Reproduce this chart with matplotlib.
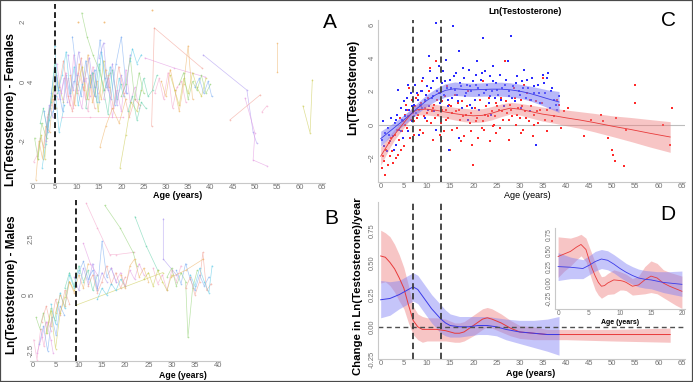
import matplotlib.pyplot as plt
import matplotlib.transforms as mtransforms
from matplotlib.patches import Rectangle

plt.rcParams['font.family'] = ['Liberation Sans', 'DejaVu Sans']

W, H = 693, 382

# ---------------- panel A: females, individual trajectories ----------------
fem_age = [
    [0.3, 1.0, 1.8, 2.6, 3.4, 4.2, 5.0, 5.8],
    [0.8, 1.5, 2.3, 3.0, 3.9, 4.6, 5.4],
    [1.2, 2.0, 2.8, 3.6, 4.5, 5.2, 6.1, 7.0],
    [0.5, 1.3, 2.1, 3.2, 4.0, 4.9],
    [1.8, 2.5, 3.3, 4.1, 5.0, 5.6],
    [2.2, 3.0, 3.8, 4.7, 5.3, 6.0, 7.2],
    [2.6, 3.5, 4.3, 5.1, 5.9, 6.8, 7.6, 8.5, 9.3],
    [3.0, 3.8, 4.6, 5.4, 6.2, 7.1, 7.9],
    [5.5, 6.5, 7.5, 8.4, 9.3, 10.2, 11.1, 12.0, 13.0],
    [6.0, 7.0, 8.0, 9.0, 10.0, 11.0, 12.0, 13.0, 14.0],
    [7.0, 8.1, 9.2, 10.3, 11.4, 12.5, 13.6, 14.7],
    [8.5, 9.5, 10.5, 11.5, 12.5, 13.5, 14.5, 15.5, 16.5],
    [10.0, 11.2, 12.4, 13.6, 14.8, 16.0, 17.2],
    [11.1, 12.3, 13.6, 15.0, 16.2, 17.5],
    [12.0, 13.0, 14.0, 15.0, 16.0, 17.0, 18.0, 19.0, 20.0],
    [13.5, 14.5, 15.5, 16.5, 17.5, 18.5, 19.5, 20.5],
    [14.0, 15.2, 16.4, 17.6, 18.8, 20.0, 21.2],
    [15.0, 16.0, 17.0, 18.0, 19.0, 20.0, 21.0, 22.0],
    [16.0, 17.0, 18.0, 19.0, 20.0, 21.0, 22.0, 23.0, 24.0],
    [17.0, 18.2, 19.4, 20.6, 21.8, 23.0, 24.2],
    [6.6, 13.0, 20.4],
    [15.2, 16.5, 18.0, 19.5, 21.0],
    [19.7, 21.0, 22.2, 23.5, 24.5],
    [20.0, 21.0, 22.0, 23.0, 24.0, 25.0],
    [21.5, 22.5, 23.5, 24.5, 25.5],
    [5.0, 5.8, 6.7, 7.6, 8.5, 9.4, 10.3, 11.2],
    [9.0, 10.0, 11.0, 12.0, 13.0, 14.0, 15.0],
    [8.0, 9.2, 10.4, 11.6, 12.8, 14.0],
    [25.3, 31.9, 38.8],
    [26.8, 27.4, 38.1],
    [27.5, 28.5, 29.5, 30.5, 31.5, 32.5, 33.5, 34.5],
    [29.0, 30.0, 31.0, 32.0, 33.0, 34.0, 35.0, 36.0],
    [31.0, 32.0, 33.0, 34.0, 35.0, 36.0, 37.0, 38.0, 39.0],
    [33.0, 34.0, 35.0, 36.0, 37.0, 38.0, 39.0, 40.0],
    [24.0, 25.0, 26.0, 27.0, 28.0],
    [22.0, 22.5, 23.5, 24.5],
    [36.5, 37.5, 38.5, 39.5, 40.3],
    [38.4, 48.2, 49.6, 50.4],
    [47.8, 50.0, 49.6, 52.7],
    [44.4, 51.2],
    [51.6, 52.7],
    [55.0, 55.0],
    [60.8, 62.4, 62.9],
]
fem_ln = [
    [-2.7, -2.5, -1.9, -2.2, -1.2, -0.8, -0.3, -0.6],
    [-3.3, -2.0, -2.6, -1.5, -1.7, -0.6, -0.9],
    [-2.6, -1.8, -2.6, -1.1, -0.5, 0.4, -0.2, -0.7],
    [-1.9, -2.6, -1.4, -1.9, -0.9, -0.2],
    [-1.4, -0.9, -1.6, -0.7, 0.6, -0.4],
    [-2.9, -2.1, -1.3, -1.0, -0.5, -1.7, -0.8],
    [-1.0, -1.7, -0.4, 0.5, -0.3, -1.0, 0.2, -0.5, 0.0],
    [-2.0, -0.8, -1.2, 0.2, -0.6, 0.1, -0.7],
    [0.6, -0.4, 0.3, -0.8, 0.9, -0.3, -0.9, 0.1, -0.5],
    [-0.2, 0.7, -0.5, -1.0, -0.1, 0.8, -0.6, 0.2, -0.9],
    [-0.6, 0.1, -0.9, 0.3, -0.2, -1.0, 0.5, -0.4],
    [0.2, -0.8, 0.6, -0.3, 0.9, -0.7, 0.0, -0.6, 0.4],
    [-0.4, 0.5, -0.6, 0.3, -1.0, 0.7, -0.2],
    [2.3, 1.5, 0.9, 0.4, -0.3, 0.3],
    [-0.9, 0.2, -0.5, 0.6, -0.3, -1.1, 0.4, -0.6, -0.1],
    [0.3, -0.7, 1.0, -0.2, 0.5, -0.8, 0.1, -0.5],
    [-0.2, 1.4, 0.1, -0.6, 0.6, 1.5, -0.4],
    [0.8, 1.3, -0.3, 0.6, -0.8, 0.2, -0.4, 0.9],
    [-0.6, 0.1, -1.2, -0.3, -1.0, 0.4, -0.7, -0.2, -0.9],
    [0.2, -0.9, 0.5, -0.4, -1.2, -0.6, -0.8],
    [-1.2, -1.2, -1.2],
    [-2.2, -1.5, -0.9, -1.4, -0.6],
    [-2.9, -1.8, -0.7, -1.0, -0.3],
    [-0.5, -0.1, 0.8, -0.6, 0.3, -0.4],
    [-1.0, -0.5, -1.3, -0.7, -0.9],
    [1.2, -0.3, 0.2, 1.0, -0.4, 0.5, -0.8, -0.1],
    [1.5, 0.2, -0.5, 0.7, -0.2, 0.4, -0.7],
    [0.9, -0.3, 1.0, 0.0, 0.8, -0.5],
    [0.79, 0.45, 0.15],
    [-1.5, 1.8, 0.45],
    [-0.4, 0.1, -0.6, 0.3, -0.9, -0.2, 0.0, -0.7],
    [0.0, -0.5, 0.4, -0.3, -1.0, -0.1, 1.2, -0.6],
    [0.2, -0.3, -0.8, 0.1, -0.4, 0.3, -0.2, -0.5, 0.1],
    [-0.1, 0.3, -0.6, 0.0, -0.3, 0.2, -0.4, -0.1],
    [-0.6, 0.1, -0.5, -0.3, 0.2],
    [0.7, 1.1, 0.6, 0.9],
    [-0.2, 0.1, -0.4, 0.0, -0.5],
    [0.89, -0.29, -1.7, -2.07],
    [-0.56, -1.73, -2.64, -2.84],
    [-1.29, -0.45],
    [-1.02, -0.82],
    [1.29, 0.32],
    [-0.82, -1.73, 0.05],
]
fem_dot_age = [10.3, 16.0, 26.8]
fem_dot_ln = [2.0, 2.0, 2.4]

# ---------------- panel B: males, individual trajectories ----------------
male_age = [
    [0.3, 1.0, 1.8, 2.5, 3.3, 4.1],
    [0.8, 1.6, 2.4, 3.2, 4.0, 4.8, 5.6],
    [1.5, 2.4, 3.3, 4.2, 5.1, 6.0, 6.9],
    [2.0, 3.0, 4.0, 5.0, 6.0, 7.0, 8.0],
    [3.0, 4.0, 5.0, 6.0, 7.0, 8.0, 9.0],
    [4.0, 5.0, 6.0, 7.0, 8.0, 9.0, 10.0],
    [1.0, 2.0, 3.0, 4.0, 4.5],
    [5.0, 6.0, 7.0, 8.0, 9.0, 10.0, 11.0, 12.0],
    [7.0, 8.0, 9.0, 10.0, 11.0, 12.0, 13.0, 14.0],
    [9.0, 10.0, 11.0, 12.0, 13.0, 14.0, 15.0, 16.0],
    [11.6, 14.0, 16.7, 18.0, 21.8],
    [15.6, 18.9, 21.7, 22.5],
    [10.0, 11.0, 12.0, 13.0, 14.0, 15.0, 16.0, 17.0, 18.0],
    [12.0, 13.0, 14.0, 15.0, 16.0, 17.0, 18.0, 19.0, 20.0],
    [9.5, 28.1],
    [14.0, 15.0, 16.0, 17.0, 18.0, 19.0, 20.0],
    [17.0, 18.0, 19.0, 20.0, 21.0, 22.0, 23.0, 24.0],
    [19.0, 20.0, 21.0, 22.0, 23.0, 24.0, 25.0],
    [22.1, 24.5, 27.0],
    [28.2, 28.2, 31.0],
    [26.0, 27.0, 28.0, 29.0, 30.0, 31.0, 32.0],
    [29.0, 30.0, 31.0, 32.0, 33.0, 33.5, 34.5, 35.5],
    [31.0, 32.0, 33.0, 34.0, 35.0, 36.0, 37.0, 38.0],
    [33.0, 34.0, 35.0, 36.0, 36.7, 37.5, 38.5],
    [24.0, 25.0, 26.0, 27.0, 28.0, 29.0, 30.0],
    [34.0, 35.0, 36.0, 37.0, 38.0, 38.7],
    [11.0, 12.5, 14.0],
    [29.9, 33.0, 36.8],
]
male_ln = [
    [-2.0, -2.9, -1.5, -2.3, -1.2, -1.6],
    [-1.0, -1.5, -0.8, -1.7, -0.6, -1.1, -0.3],
    [-2.2, -1.4, -2.5, -1.0, -1.8, -0.5, -0.9],
    [-1.2, -0.5, -1.4, -0.2, -0.9, 0.2, -0.4],
    [-1.7, -0.7, -2.4, -0.8, -0.1, 0.6, 0.2],
    [-0.4, -1.3, 0.1, -0.6, 0.9, 0.3, 1.1],
    [-2.6, -1.9, -1.2, -2.0, -2.6],
    [-0.8, 0.0, -0.5, 0.6, 0.1, 0.9, 0.3, 1.4],
    [0.3, 1.0, 0.4, 1.3, 0.6, 1.1, 0.2, 0.9],
    [0.8, 0.2, 1.2, 0.5, 1.4, 0.3, 1.0, 0.6],
    [4.1, 3.0, 1.8, 1.8, 1.9],
    [4.0, 3.0, 1.9, 1.3],
    [1.0, 1.5, 0.7, 1.1, 0.2, 2.4, 0.8, 1.2, 0.6],
    [0.4, 0.9, 0.1, 0.6, 1.3, 0.5, 1.0, 0.3, 0.8],
    [-0.45, 1.0],
    [-0.2, 0.3, 0.0, 0.5, 0.2, 0.7, 0.4],
    [1.2, 0.6, 1.0, 0.4, 1.1, 0.7, 1.4, 0.9],
    [0.9, 0.3, 1.3, 1.6, 0.8, 1.2, 0.6],
    [3.5, 2.2, 1.1],
    [3.4, 1.6, 0.9],
    [1.2, 0.5, 0.9, 0.2, 1.1, 0.6, 1.3],
    [0.8, 1.2, 0.4, 1.0, 0.6, -1.9, 0.3, 1.1],
    [1.1, 0.5, 1.4, 0.7, 0.2, 0.9, 0.4, 0.8],
    [0.3, 0.8, 0.0, 0.6, 1.9, 0.2, 0.5],
    [0.7, 1.0, 0.4, 1.1, 0.6, 0.2, 0.9],
    [0.9, 0.4, 1.2, 0.6, 0.1, 1.3],
    [2.3, 1.4, 0.9],
    [0.8, 1.1, 1.6],
]

# ---------------- panel C: pooled observations ----------------
c_fem_age = [0.3, 0.5, 0.8, 1.0, 1.2, 1.5, 1.7, 2.0, 2.2, 2.5, 2.7, 3.0, 3.2, 3.5, 3.7, 4.0, 4.2, 4.5, 4.8, 5.0,
             5.2, 5.5, 5.7, 6.0, 6.2, 6.5, 6.8, 7.0, 7.2, 7.5, 7.8, 8.0, 8.3, 8.5, 8.8, 9.0, 9.3, 9.6, 10.0, 10.3,
             10.6, 11.0, 11.3, 11.6, 12.0, 12.3, 12.6, 13.0, 13.3, 13.6, 14.0, 14.3, 14.6, 15.0, 15.2,
             15.5, 16.0, 16.4, 16.8, 17.2, 17.6, 18.0, 18.4, 18.8, 19.2, 19.6, 20.0, 20.3, 20.7, 21.0, 21.5, 22.0,
             22.4, 22.8, 23.2, 23.6, 24.0, 24.4, 24.8, 25.0,
             25.5, 26.0, 26.4, 26.8, 27.2, 27.6, 28.0, 28.4, 28.8, 29.2, 29.6, 30.0, 30.4, 30.8, 31.2, 31.6, 32.0,
             32.4, 32.8, 33.2, 33.6, 34.0, 34.5, 35.0, 35.5, 36.0, 36.5, 37.5, 38.5, 39.5,
             40.5, 44.0, 45.5, 47.5, 48.0, 49.0, 50.0, 50.2, 50.5, 50.8, 52.5, 53.0, 55.0, 55.0, 61.0, 62.5, 62.8,
             3.3, 4.4, 5.3, 5.9, 6.4, 6.9, 7.3, 7.7, 8.1, 8.6, 9.1, 9.5, 9.9, 10.4, 10.8, 11.2, 11.8, 12.2, 12.8,
             13.2, 13.8, 14.2, 14.8, 15.4, 16.2, 16.6, 17.4, 17.8, 18.6, 19.4, 19.8, 20.5, 21.2, 21.8, 22.6,
             23.4, 24.2, 24.6, 25.2, 25.8, 26.2, 27.0, 27.8, 28.2, 29.0, 29.4, 30.2, 30.6, 31.4, 32.2, 33.0,
             33.8, 34.8, 35.8, 37.0, 38.0, 39.0, 36.8, 31.0, 22.0]
c_fem_ln = [-2.6, -1.9, -2.2, -3.0, -1.5, -2.4, -1.1, -1.9, -0.8, -1.6, -2.3, -0.6, -1.2, -0.3, -1.8, -0.9, 0.4,
            -0.4, 0.2, -1.3,
            0.6, 1.2, -0.2, 0.9, 2.2, 0.3, 1.5, 0.7, -0.6, 1.1, 0.4, 1.8, 0.9, -0.3, 1.3, 2.6, 0.5, 1.0, 0.2, 1.6,
            3.4, 0.8, -0.9, 1.2, 3.8, 0.6, 1.9, 0.1, 1.4, -0.4, 0.9, 2.3, 0.4, -1.5, 1.1,
            0.7, 1.8, -0.2, 0.9, 0.3, 1.4, -0.7, 0.6, 2.0, 0.1, -0.4, -2.4, 1.0, 0.4, -0.8, 1.5, 0.2,
            -0.3, 1.1, 0.5, -1.0, 0.8, 0.0, 1.3, -0.5,
            0.9, 1.6, 0.3, 3.8, 0.7, -0.9, 1.2, 0.5, 2.2, 0.0, 1.0, 0.4, 1.5, -0.3, 0.8, 1.9, 0.2,
            1.1, -0.7, 0.6, 1.4, 0.1, 0.9, 2.8, 0.3, -0.4, 1.0, 0.5, 1.2, 0.8,
            1.0, -0.7, 0.3, 0.6, 0.2, -0.8, -1.5, -1.8, -2.2, 0.4, -2.5, -0.3, 2.4, 1.3, 0.0, -1.2, 1.0,
            -2.0, -1.5, 0.0, 0.5, -0.8, 1.0, 0.2, 1.6, 0.6, 1.1, -0.5, 1.4, 0.7, 2.0, 0.1, 1.0, 0.4, 1.5, -0.6,
            0.9, 1.7, 0.3, 1.2, -0.3, 0.8, 1.3, -1.0, 0.5, 1.1, 0.7, -1.2, 0.2, 0.9, -0.2, 0.6,
            1.6, -0.1, 0.5, 1.1, -0.2, 0.8, 1.4, 0.3, 0.9, 1.6, 0.6, -0.5, 1.1, 0.4, 1.5, 0.0,
            0.8, 1.3, 0.9, 0.2, 1.5, -0.2, 2.0, 2.4, 2.6]
c_male_age = [0.2, 0.5, 0.8, 1.0, 1.3, 1.6, 2.0, 2.3, 2.6, 3.0, 3.3, 3.6, 4.0, 4.3, 4.6, 4.9, 5.0, 3.8,
              5.3, 5.6, 5.9, 6.2, 6.5, 6.8, 7.1, 7.4, 7.7, 8.0, 8.3, 8.6, 8.9, 9.2, 9.5, 9.8, 10.1, 10.4, 10.7,
              11.0, 11.3, 11.6, 11.9, 12.2, 12.5, 12.8, 13.0, 13.3, 12.0, 10.5,
              13.6, 14.0, 14.3, 14.6, 15.0, 15.3, 15.6, 16.0, 16.3, 16.6, 17.0, 17.3, 17.6, 18.0, 18.3, 18.6,
              19.0, 19.3, 19.6, 20.0, 20.3, 20.6, 21.0, 21.3, 21.6, 22.0, 22.3, 22.6, 23.0, 23.3, 23.6, 24.0,
              24.3, 24.6, 25.0, 14.8, 18.8, 16.8, 20.8, 23.8,
              25.4, 25.8, 26.2, 26.6, 27.0, 27.4, 27.8, 28.2, 28.6, 29.0, 29.4, 29.8, 30.2, 30.6, 31.0, 31.4,
              31.8, 32.2, 32.6, 33.0, 33.5, 34.0, 34.5, 35.0, 35.5, 36.0, 36.5, 37.0, 37.5, 38.0, 38.5, 36.2,
              1.8, 2.8, 3.4, 4.4, 5.5, 6.0, 6.7, 7.3, 7.9, 8.4, 9.0, 9.6, 10.2, 10.8, 11.4, 12.1, 12.7, 13.4,
              13.9, 14.5, 15.2, 15.8, 16.5, 17.1, 17.8, 18.5, 19.2, 19.8, 20.5, 21.2, 21.8, 22.8, 23.5, 24.2,
              25.2, 26.0, 26.8, 27.6, 28.4, 29.2, 30.0, 30.8, 31.6, 32.4, 33.2, 34.2, 35.2, 36.8, 37.8]
c_male_ln = [-0.9, 0.2, -1.3, -0.5, -1.6, -0.2, -1.0, 0.4, -0.7, 0.1, -1.2, 0.6, -0.3, 1.0, 0.3, -0.8, 1.4, 2.1,
             0.5, 1.6, -0.4, 0.9, 1.9, 0.2, 1.2, 2.4, 0.7, 1.5, -0.6, 2.0, 1.0, 2.8, 0.4, 1.8, 2.3, 1.1, 3.2,
             1.6, 2.6, 0.8, 6.1, 2.0, 3.5, 1.3, 5.0, 2.5, -0.3, 4.1,
             1.8, 3.9, 2.2, 1.1, 2.7, 1.6, 5.9, 2.1, 3.1, 1.4, 4.4, 2.3, 1.0, 2.8, 1.7, 2.4,
             3.3, 1.2, 2.0, 2.6, 1.5, 3.0, 2.2, 0.9, 2.7, 5.2, 1.9, 3.2, 2.4, 1.3, 2.9, 2.0,
             3.5, 1.6, 2.5, -1.5, 0.3, -0.8, 3.8, 0.6,
             1.8, 3.0, 2.2, 1.1, 2.7, 3.8, 1.7, 5.3, 2.3, 1.4, 2.9, 2.0, 1.0, 2.6, 3.3, 1.6,
             2.2, 0.8, 2.8, 1.9, -1.2, 2.4, 1.3, 3.0, 1.9, 2.8, 1.0, 2.2, 1.5, 0.9, 1.7, 3.1,
             -0.6, -1.5, 0.3, -0.4, 0.9, 2.4, 1.1, 0.5, 1.9, 1.2, 2.0, 1.5, 0.9, 2.2, 1.7, 2.8, 1.9, 3.2,
             2.6, 1.5, 2.2, 2.9, 1.8, 2.5, 3.4, 1.9, 2.3, 1.0, 2.4, 1.8, 3.1, 2.1, 1.7, 2.6,
             2.1, 1.5, 2.4, 2.0, 1.6, 2.5, 1.8, 2.2, 2.7, 1.5, 2.3, 1.9, 2.5, 2.0, 1.2]

# smoothed fits (mean and band)
c_male_fit_age = [0, 2, 4, 6, 8, 10, 12, 14, 16, 18, 20, 22, 24, 26, 28, 30, 32, 34, 36, 38.5]
c_male_fit = [-0.85, -0.4, 0.05, 0.5, 1.0, 1.45, 1.8, 2.05, 2.15, 2.1, 2.08, 2.1, 2.12, 2.12, 2.08, 2.0,
              1.88, 1.72, 1.55, 1.35]
c_male_hi = [-0.4, -0.05, 0.35, 0.8, 1.32, 1.8, 2.17, 2.45, 2.55, 2.5, 2.48, 2.5, 2.53, 2.54, 2.5, 2.42,
             2.32, 2.2, 2.08, 1.98]
c_male_lo = [-1.3, -0.75, -0.25, 0.2, 0.68, 1.1, 1.43, 1.65, 1.75, 1.7, 1.68, 1.7, 1.71, 1.7, 1.66, 1.58,
             1.44, 1.24, 1.02, 0.72]
c_fem_fit_age = [0, 1, 2, 3, 4, 5, 6, 7, 8, 10, 12, 14, 16, 18, 20, 22, 24, 26, 28, 30, 32, 35, 38, 40, 43,
                 46, 50, 54, 58, 62.5]
c_fem_fit = [-1.9, -1.45, -1.0, -0.6, -0.25, 0.1, 0.45, 0.75, 0.9, 0.92, 0.85, 0.75, 0.65, 0.57, 0.52, 0.55,
             0.68, 0.85, 0.98, 0.92, 0.8, 0.62, 0.5, 0.4, 0.27, 0.12, -0.1, -0.3, -0.52, -0.75]
c_fem_hi = [-1.35, -1.0, -0.62, -0.28, 0.05, 0.4, 0.75, 1.05, 1.22, 1.27, 1.2, 1.11, 1.03, 0.97, 0.92, 0.95,
            1.08, 1.23, 1.33, 1.27, 1.18, 1.04, 0.95, 0.87, 0.77, 0.67, 0.52, 0.42, 0.3, 0.17]
c_fem_lo = [-2.45, -1.9, -1.38, -0.92, -0.55, -0.2, 0.15, 0.45, 0.58, 0.57, 0.5, 0.39, 0.27, 0.17, 0.12, 0.15,
            0.28, 0.47, 0.63, 0.57, 0.42, 0.2, 0.05, -0.07, -0.23, -0.43, -0.72, -1.02, -1.34, -1.67]

# ---------------- panel D: rate of change ----------------
d_fem_age = [0, 1, 2, 3, 4, 5, 6, 7, 8, 9, 10, 12, 14, 16, 17, 18, 20, 22, 23, 24, 26, 28, 30, 33, 36, 40,
             50, 62.5]
d_fem = [0.55, 0.54, 0.5, 0.45, 0.38, 0.3, 0.17, 0.05, 0.0, -0.02, -0.02, -0.02, -0.03, -0.05, -0.05, -0.04,
         0.01, 0.06, 0.07, 0.06, 0.03, -0.01, -0.04, -0.05, -0.06, -0.06, -0.06, -0.06]
d_fem_hi = [0.75, 0.73, 0.7, 0.64, 0.56, 0.46, 0.32, 0.16, 0.1, 0.08, 0.07, 0.07, 0.06, 0.03, 0.03, 0.04,
            0.09, 0.14, 0.15, 0.14, 0.1, 0.05, 0.01, 0.0, -0.02, -0.02, -0.02, -0.01]
d_fem_lo = [0.34, 0.35, 0.32, 0.27, 0.2, 0.14, 0.03, -0.06, -0.1, -0.12, -0.11, -0.11, -0.11, -0.12, -0.12,
            -0.11, -0.07, -0.02, 0.0, -0.01, -0.04, -0.07, -0.09, -0.1, -0.1, -0.1, -0.11, -0.12]
d_male_age = [0, 2, 4, 6, 7, 8, 9, 10, 11, 12, 13, 14, 15, 17, 19, 21, 23, 25, 27, 30, 33, 36, 38.5]
d_male = [0.21, 0.22, 0.25, 0.29, 0.31, 0.29, 0.24, 0.19, 0.14, 0.1, 0.06, 0.03, 0.01, 0.0, 0.0, 0.01, 0.01,
          0.0, -0.02, -0.04, -0.05, -0.06, -0.06]
d_male_hi = [0.36, 0.35, 0.36, 0.4, 0.42, 0.4, 0.35, 0.3, 0.25, 0.21, 0.17, 0.13, 0.1, 0.08, 0.08, 0.08, 0.08,
             0.07, 0.06, 0.05, 0.05, 0.06, 0.08]
d_male_lo = [0.07, 0.09, 0.14, 0.18, 0.2, 0.18, 0.13, 0.08, 0.03, -0.01, -0.05, -0.07, -0.08, -0.08, -0.07,
             -0.06, -0.06, -0.07, -0.1, -0.13, -0.16, -0.19, -0.22]

# inset (0-20 years)
i_fem_age = [0, 1, 2, 3, 3.7, 4.5, 5, 5.5, 6, 6.5, 7, 7.5, 8, 9, 10, 10.5, 11, 12, 13, 14, 15, 16, 17, 18,
             19, 20]
i_fem = [0.41, 0.45, 0.49, 0.56, 0.6, 0.52, 0.36, 0.22, 0.1, 0.0, -0.06, -0.05, -0.01, 0.04, 0.03, 0.02, 0.0,
         -0.06, -0.04, 0.04, 0.1, 0.07, -0.01, -0.06, -0.1, -0.14]
i_fem_hi = [0.72, 0.71, 0.7, 0.73, 0.76, 0.7, 0.57, 0.44, 0.31, 0.18, 0.09, 0.1, 0.14, 0.2, 0.17, 0.15, 0.13,
            0.06, 0.1, 0.25, 0.34, 0.3, 0.2, 0.16, 0.13, 0.1]
i_fem_lo = [0.08, 0.18, 0.26, 0.36, 0.42, 0.33, 0.17, 0.02, -0.12, -0.2, -0.25, -0.22, -0.19, -0.18, -0.12,
            -0.12, -0.13, -0.2, -0.19, -0.18, -0.16, -0.18, -0.24, -0.3, -0.36, -0.41]
i_male_age = [0, 2, 4, 5, 6, 7, 8, 9, 10, 11, 12, 13, 14, 15, 16, 17, 18, 20]
i_male = [0.25, 0.24, 0.22, 0.27, 0.33, 0.37, 0.35, 0.29, 0.22, 0.16, 0.11, 0.07, 0.05, 0.04, 0.02, 0.0, -0.01,
          -0.03]
i_male_hi = [0.47, 0.4, 0.36, 0.42, 0.49, 0.52, 0.5, 0.44, 0.37, 0.3, 0.25, 0.21, 0.19, 0.18, 0.17, 0.17,
             0.17, 0.18]
i_male_lo = [0.03, 0.06, 0.06, 0.12, 0.18, 0.22, 0.2, 0.15, 0.08, 0.02, -0.03, -0.07, -0.09, -0.1, -0.13,
             -0.16, -0.18, -0.22]

palette = ['#f4a0c8', '#eeb060', '#c9c94c', '#8fd070', '#5fd0a8', '#55c8e6', '#74a8f2', '#a892f0',
           '#e293e0', '#f29a8e']
RED, BLUE = '#e83a3a', '#3a3ae8'
RED_BAND, BLUE_BAND = '#ee7f7f', '#7f7ff5'
TICK_COL = '#707070'


def px_axes(fig, left, top, right, bottom):
    return fig.add_axes([left / W, 1 - bottom / H, (right - left) / W, (bottom - top) / H])


def ftext(fig, x, y, s, **kw):
    fig.text(x / W, 1 - y / H, s, ha='center', va='center', **kw)


def style_axes(ax, left_spine=True, size=5.5):
    for side in ['top', 'right']:
        ax.spines[side].set_visible(False)
    ax.spines['bottom'].set_color('#c8c8c8')
    ax.spines['bottom'].set_linewidth(0.8)
    if left_spine:
        ax.spines['left'].set_color('#c8c8c8')
        ax.spines['left'].set_linewidth(0.8)
    else:
        ax.spines['left'].set_visible(False)
    ax.tick_params(length=0, labelsize=size, colors=TICK_COL, pad=1.0)
    ax.tick_params(axis='y', labelrotation=90, pad=1.5)
    for lab in ax.get_yticklabels():
        lab.set_va('center')


fig = plt.figure(figsize=(W / 100, H / 100), dpi=100)

# ---- A ----
axA = px_axes(fig, 30, 4, 325, 183)
for i, (a, v) in enumerate(zip(fem_age, fem_ln)):
    axA.plot(a, v, '-o', color=palette[i % len(palette)], lw=0.5, ms=1.2, mew=0, alpha=0.6)
axA.plot(fem_dot_age, fem_dot_ln, 'o', color=palette[1], ms=1.4, mew=0, alpha=0.8)
axA.axvline(5, color='black', lw=1.2, ls=(0, (3.5, 2)))
axA.set_xlim(-0.52, 65.75)
axA.set_ylim(-3.41, 2.6)
axA.set_xticks(range(0, 70, 5))
axA.set_yticks([])
style_axes(axA, left_spine=False)
trA = mtransforms.blended_transform_factory(fig.transFigure, axA.transData)
for val, lab in zip([-2, 0, 2], ['-2', '0', '2']):
    axA.text(23 / W, val, lab, transform=trA, rotation=90, ha='center', va='center', fontsize=5.5,
             color=TICK_COL)
axA.text(31 / W, 0, '4', transform=trA, rotation=90, ha='center', va='center', fontsize=5.5, color=TICK_COL)

# ---- B ----
axB = px_axes(fig, 30, 200, 220, 361)
for i, (a, v) in enumerate(zip(male_age, male_ln)):
    axB.plot(a, v, '-o', color=palette[(i * 3) % len(palette)], lw=0.5, ms=1.2, mew=0, alpha=0.6)
axB.axvline(9.3, color='black', lw=1.2, ls=(0, (3.5, 2)))
axB.set_xlim(-0.5, 40.4)
axB.set_ylim(-2.95, 4.24)
axB.set_xticks(range(0, 45, 5))
axB.set_yticks([])
style_axes(axB, left_spine=False)
trB = mtransforms.blended_transform_factory(fig.transFigure, axB.transData)
for xp, val, lab in zip([31, 25, 31], [-2.5, 0, 2.5], ['-2.5', '0', '2.5']):
    axB.text(xp / W, val, lab, transform=trB, rotation=90, ha='center', va='center', fontsize=5.5,
             color=TICK_COL)
axB.text(32 / W, 0, '5', transform=trB, rotation=90, ha='center', va='center', fontsize=5.5, color=TICK_COL)

# ---- C ----
axC = px_axes(fig, 378, 20, 685, 182)
axC.axhline(0, color='#bdbdbd', lw=0.8, zorder=1)
axC.scatter(c_fem_age, c_fem_ln, s=1.8, marker='s', color='#ff2a2a', lw=0, zorder=2)
axC.scatter(c_male_age, c_male_ln, s=1.8, marker='s', color='#2a2aff', lw=0, zorder=2)
axC.fill_between(c_fem_fit_age, c_fem_lo, c_fem_hi, color=RED_BAND, alpha=0.45, lw=0, zorder=3)
axC.fill_between(c_male_fit_age, c_male_lo, c_male_hi, color=BLUE_BAND, alpha=0.55, lw=0, zorder=3)
axC.plot(c_fem_fit_age, c_fem_fit, color=RED, lw=0.6, zorder=4)
axC.plot(c_male_fit_age, c_male_fit, color=BLUE, lw=0.6, zorder=4)
for xv in [7, 13]:
    axC.axvline(xv, color='#3c3c3c', lw=1.3, ls=(0, (3.5, 2)), zorder=5)
axC.set_xlim(-0.58, 65.7)
axC.set_ylim(-3.45, 6.27)
axC.set_xticks(range(0, 70, 5))
axC.set_yticks([-2, 0, 2, 4, 6])
style_axes(axC)

# ---- D ----
axD = px_axes(fig, 378, 202, 685, 359)
axD.fill_between(d_fem_age, d_fem_lo, d_fem_hi, color=RED_BAND, alpha=0.45, lw=0)
axD.fill_between(d_male_age, d_male_lo, d_male_hi, color=BLUE_BAND, alpha=0.45, lw=0)
axD.plot(d_fem_age, d_fem, color=RED, lw=0.7)
axD.plot(d_male_age, d_male, color=BLUE, lw=0.7)
axD.axhline(0, color='#505050', lw=1.0, ls=(0, (3.5, 2.5)))
for xv in [7, 13]:
    axD.axvline(xv, color='#3c3c3c', lw=1.3, ls=(0, (3.5, 2)))
axD.set_xlim(-0.58, 65.7)
axD.set_ylim(-0.248, 0.969)
axD.set_xticks(range(0, 70, 5))
axD.set_yticks([-0.25, 0, 0.25, 0.5, 0.75])
axD.set_yticklabels(['-0.25', '0.00', '0.25', '0.50', '0.75'])
style_axes(axD)

# ---- D inset ----
axI = px_axes(fig, 555, 228, 685, 309)
axI.fill_between(i_fem_age, i_fem_lo, i_fem_hi, color=RED_BAND, alpha=0.45, lw=0)
axI.fill_between(i_male_age, i_male_lo, i_male_hi, color=BLUE_BAND, alpha=0.45, lw=0)
axI.plot(i_fem_age, i_fem, color=RED, lw=0.6)
axI.plot(i_male_age, i_male, color=BLUE, lw=0.6)
axI.set_xlim(-0.5, 20.5)
axI.set_ylim(-0.42, 0.86)
axI.set_xticks(range(0, 25, 5))
axI.set_yticks([-0.25, 0, 0.25, 0.5, 0.75])
axI.set_yticklabels(['-0.25', '0.00', '0.25', '0.50', '0.75'])
style_axes(axI, size=4.8)
axI.tick_params(axis='x', pad=0.5)

# ---- labels ----
ftext(fig, 11, 110, 'Ln(Testosterone) - Females', rotation=90, fontsize=8.5, fontweight='bold')
ftext(fig, 12, 285, 'Ln(Testosterone) - Males', rotation=90, fontsize=8.5, fontweight='bold')
ftext(fig, 353, 87, 'Ln(Testosterone)', rotation=90, fontsize=8.5, fontweight='bold')
ftext(fig, 358, 286, 'Change in Ln(Testosterone)/year', rotation=90, fontsize=8.2, fontweight='bold')
ftext(fig, 178, 196, 'Age (years)', fontsize=6.5, fontweight='bold')
ftext(fig, 183, 376, 'Age (years)', fontsize=6.3, fontweight='bold')
ftext(fig, 527, 196, 'Age (years)', fontsize=6.5)
ftext(fig, 531, 373, 'Age (years)', fontsize=6.5, fontweight='bold')
ftext(fig, 620, 322, 'Age (years)', fontsize=5.0, fontweight='bold')
ftext(fig, 525, 12, 'Ln(Testosterone)', fontsize=6.5, fontweight='bold')
for x, y, letter in [(330, 22, 'A'), (331, 218, 'B'), (668, 21, 'C'), (668, 215, 'D')]:
    ftext(fig, x, y, letter, fontsize=15)

fig.patches.append(Rectangle((0, 0), 1, 1, transform=fig.transFigure, fill=False,
                             edgecolor='#4a4a4a', lw=1.6))

fig.savefig('out.png', dpi=100)
